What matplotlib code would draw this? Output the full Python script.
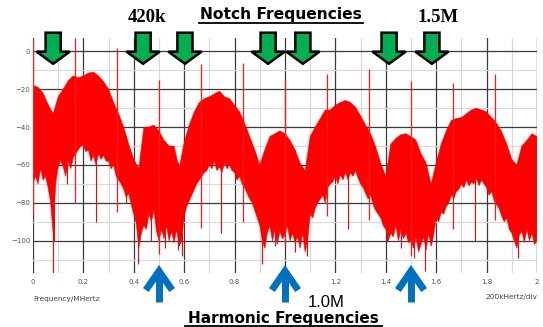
import numpy as np
import matplotlib
matplotlib.use("Agg")
import matplotlib.pyplot as plt
from matplotlib.patches import Polygon
from matplotlib.lines import Line2D

# top edge of the red band, read every 20 kHz from 0 to 2 MHz
freq_hi = np.linspace(0, 2, 101)
upper = [-18, -19, -22, -28, -33, -24, -20, -15.5, -13, -14,
         -13, -11.5, -11, -13, -16, -20, -27, -33, -40, -49,
         -57, -62, -40, -40, -39, -42, -47, -50, -50, -62,
         -48, -39, -32, -27, -25, -24, -22.5, -21, -24, -25,
         -28.5, -32, -38, -45, -52, -60, -52, -45, -43.5, -42,
         -43.5, -47, -52, -59, -63, -45, -40, -35.5, -31, -31,
         -28.5, -27, -26, -27, -29.5, -34, -39, -43.5, -50.5, -59,
         -66, -49, -46, -44, -43.5, -45, -47, -54, -59, -70,
         -59, -49, -42, -36.5, -35.5, -35, -33, -31, -30, -31,
         -32, -35, -38, -42.5, -49, -57, -60, -50, -47, -43.5,
         -45]

# bottom edge of the red band, read every 10 kHz
freq_lo = np.linspace(0, 2, 201)
lower = [-70, -66, -70, -62, -68, -66, -72, -80, -96, -70,
         -61, -58, -61, -66, -58, -62, -56, -54, -52, -50,
         -50, -53, -52, -58, -55, -60, -54, -57, -55, -58,
         -58, -62, -60, -66, -68, -70, -73, -77, -75, -81,
         -86, -91, -104, -96, -92, -94, -86, -90, -84, -95,
         -100, -94, -99, -92, -100, -95, -101, -94, -103, -100,
         -87, -82, -79, -76, -73, -70, -68, -66, -64, -63,
         -60, -62, -58, -63, -61, -64, -59, -62, -60, -63,
         -64, -68, -66, -70, -72, -75, -78, -80, -84, -88,
         -92, -100, -104, -96, -92, -100, -94, -102, -95, -99,
         -97, -92, -100, -96, -101, -98, -104, -96, -106, -100,
         -86, -88, -83, -80, -78, -76, -80, -72, -70, -69,
         -66, -70, -65, -68, -64, -68, -64, -66, -63, -67,
         -70, -72, -75, -78, -76, -81, -84, -86, -88, -92,
         -94, -100, -96, -98, -92, -100, -94, -99, -96, -101,
         -100, -104, -98, -106, -102, -98, -105, -96, -103, -97,
         -88, -90, -85, -86, -82, -80, -76, -78, -74, -73,
         -70, -72, -68, -71, -69, -70, -67, -71, -68, -70,
         -72, -76, -74, -79, -81, -83, -87, -90, -88, -94,
         -96, -100, -104, -97, -95, -101, -94, -100, -96, -102,
         -100]

# harmonic lines (tall spikes)
harm_f = [0.0, 0.167, 0.333, 0.5, 0.667, 0.833, 1.0, 1.167, 1.333, 1.5, 1.667, 1.833, 2.0]
harm_top = [7, 7, 1.5, -15, -6.5, -6, -15.5, -12, -9.5, -15.5, -17, -12, -15.5]
harm_bottom = [-86, -80, -85, -107, -93, -90, -103, -87, -89, -108, -94, -89, -116]

# deep dips below the red band
dip_f = [0.078, 0.085, 0.134, 0.25, 0.37, 0.418, 0.47, 0.524, 0.574, 0.59, 0.748,
         0.91, 0.96, 1.04, 1.088, 1.25, 1.405, 1.46, 1.51, 1.555, 1.752, 1.925]
dip_bottom = [-119, -100, -70, -90, -80, -112, -100, -104, -105, -108, -96,
              -112, -103, -106, -108, -94, -100, -104, -109, -116, -100, -109]

notch_f = [0.08, 0.437, 0.603, 0.933, 1.071, 1.413, 1.583]
harmonic_arrow_f = [0.5, 1.0, 1.5]

xticks = [0, 0.2, 0.4, 0.6, 0.8, 1.0, 1.2, 1.4, 1.6, 1.8, 2.0]
xlabels = ["0", "0.2", "0.4", "0.6", "0.8", "1", "1.2", "1.4", "1.6", "1.8", "2"]
yticks = [0, -20, -40, -60, -80, -100]

fig = plt.figure(figsize=(5.43, 3.27), dpi=100)
ax = fig.add_axes([33/543, 1 - 273/327, 504/543, 235/327])

band_x = np.concatenate([freq_hi, freq_lo[::-1]])
band_y = np.concatenate([upper, lower[::-1]])
ax.fill(band_x, band_y, color="#ff0000", lw=0.4, zorder=2)
ax.vlines(harm_f, harm_bottom, harm_top, color="#ff1a1a", lw=0.9, zorder=2)
ax.vlines(dip_f, dip_bottom, np.interp(dip_f, freq_hi, upper), color="#ff0000", lw=0.8, zorder=2)

ax.set_xlim(0, 2)
ax.set_ylim(-117, 7)
ax.set_xticks(xticks)
ax.set_xticklabels(xlabels)
ax.set_xticks(np.arange(0.1, 2, 0.2), minor=True)
ax.set_yticks(yticks)
ax.set_yticks([-10, -30, -50, -70, -90, -110], minor=True)
ax.grid(which="major", color="#3a3a3a", lw=0.9)
ax.grid(which="minor", color="#d9d9d9", lw=0.9)
ax.set_axisbelow(True)
for s in ax.spines.values():
    s.set_visible(False)
ax.tick_params(which="both", length=0, labelsize=5, labelcolor="#555555")
ax.tick_params(axis="x", pad=4)
ax.tick_params(axis="y", pad=2)

# green notch arrows
for x in notch_f:
    pts = [(x - 0.03, 9.8), (x + 0.03, 9.8), (x + 0.03, -0.2), (x + 0.066, -0.2),
           (x, -6.6), (x - 0.066, -0.2), (x - 0.03, -0.2)]
    ax.add_patch(Polygon(pts, closed=True, facecolor="#00b050", edgecolor="black",
                         lw=1.8, clip_on=False, zorder=5))

# blue harmonic arrows
for x in harmonic_arrow_f:
    ax.add_line(Line2D([x, x], [-116, -132.5], color="#0070c0", lw=5,
                       solid_capstyle="butt", clip_on=False, zorder=5))
    ax.add_line(Line2D([x - 0.052, x, x + 0.052], [-126, -116, -126], color="#0070c0",
                       lw=5, solid_joinstyle="miter", solid_capstyle="butt",
                       clip_on=False, zorder=5))

fig.text(33/543, 1 - 299/327, "Frequency/MHertz", fontsize=5.3, color="#444444",
         ha="left", va="center")
fig.text(537/543, 1 - 297/327, "200kHertz/div", fontsize=5.3, color="#444444",
         ha="right", va="center")
fig.text(147/543, 1 - 18/327, "420k", fontsize=13.5, fontweight="bold",
         family="Liberation Serif", ha="center", va="center")
fig.text(438/543, 1 - 17.5/327, "1.5M", fontsize=13.5, fontweight="bold",
         family="Liberation Serif", ha="center", va="center")
fig.text(326/543, 1 - 302.5/327, "1.0M", fontsize=12, family="Liberation Sans",
         ha="center", va="center")

fig.text(281/543, 1 - 14.5/327, "Notch Frequencies", fontsize=11.2,
         fontweight="bold", ha="center", va="center")
fig.text(283.5/543, 1 - 319/327, "Harmonic Frequencies", fontsize=11,
         fontweight="bold", ha="center", va="center")
# underlines
fig.add_artist(Line2D([199/543, 363/543], [1 - 22.5/327] * 2, transform=fig.transFigure,
                      color="black", lw=1.3))
fig.add_artist(Line2D([185/543, 382/543], [1 - 325.5/327] * 2, transform=fig.transFigure,
                      color="black", lw=1.3))

fig.savefig("out.png", dpi=100)
